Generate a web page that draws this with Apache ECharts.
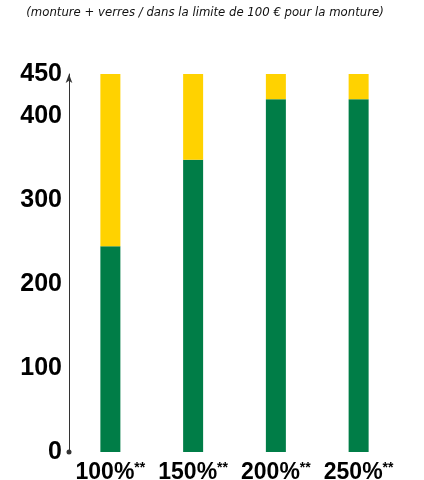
<!DOCTYPE html>
<html>
<head>
<meta charset="utf-8">
<script src="https://cdn.jsdelivr.net/npm/echarts@6/dist/echarts.min.js"></script>
<style>
html,body{margin:0;padding:0;background:#fff;}
#c{width:424px;height:480px;}
</style>
</head>
<body>
<div id="c"></div>
<script>
var categories = ['100%', '150%', '200%', '250%'];
var greenValues = [245, 348, 420, 420];
var yellowValues = [205, 102, 30, 30];
var yTickLabels = [0, 100, 200, 300, 400, 450];
var titleText = '(monture + verres / dans la limite de 100 € pour la monture)';

var chart = echarts.init(document.getElementById('c'));
var narrow = '"DejaVu Sans Condensed", sans-serif';
var boldFont = '"Liberation Sans", Arial, sans-serif';
chart.setOption({
  animation: false,
  title: {
    text: titleText,
    left: 200,
    textAlign: 'center',
    top: 1,
    textStyle: {fontFamily: narrow, fontStyle: 'italic', fontWeight: 'normal', fontSize: 13, color: '#111'}
  },
  grid: {left: 69, right: 24, top: 74, bottom: 28, containLabel: false, outerBoundsMode: 'none'},
  xAxis: {
    type: 'category',
    data: categories,
    axisLine: {show: false},
    axisTick: {show: false},
    axisLabel: {
      interval: 0,
      margin: 9,
      formatter: function (v) { return '{a|' + v + '}{b|**}'; },
      rich: {
        a: {fontFamily: boldFont, fontWeight: 'bold', fontSize: 23, color: '#000'},
        b: {fontFamily: boldFont, fontWeight: 'bold', fontSize: 14, color: '#000', verticalAlign: 'top', padding: [0, 0, 8, 0]}
      }
    }
  },
  yAxis: {
    type: 'value',
    min: 0,
    max: 450,
    interval: 50,
    splitLine: {show: false},
    axisTick: {show: false},
    axisLine: {show: true, symbol: ['circle', 'arrow'], symbolSize: [5, 9], lineStyle: {color: '#333', width: 1}},
    axisLabel: {
      margin: 7,
      fontFamily: boldFont, fontWeight: 'bold', fontSize: 25, color: '#000',
      formatter: function (v) { return yTickLabels.indexOf(v) >= 0 ? String(v) : ''; }
    }
  },
  series: [
    {type: 'bar', stack: 'a', data: greenValues, barWidth: 20, itemStyle: {color: '#007D47'}},
    {type: 'bar', stack: 'a', data: yellowValues, barWidth: 20, itemStyle: {color: '#FFD200'}}
  ]
});
</script>
</body>
</html>
